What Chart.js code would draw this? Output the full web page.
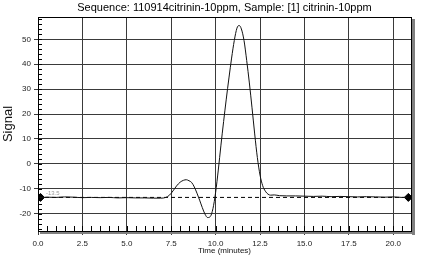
<!DOCTYPE html>
<html lang="en">
<head>
    <meta charset="UTF-8">
    <title>Sequence: 110914citrinin-10ppm</title>
    <script src="https://cdn.jsdelivr.net/npm/chart.js"></script>
    <style>
        body {
            margin: 0;
            background-color: #fff;
        }
        #wrap {
            width: 428px;
            height: 260px;
        }
    </style>
</head>
<body>
    <div id="wrap"><canvas id="signalChart" width="428" height="260"></canvas></div>
    <script>
        // retention time (minutes) and detector signal
        const timeMin = [0.0, 0.2, 0.5, 1.0, 1.5, 2.0, 2.5, 3.0, 3.5, 4.0, 4.5, 5.0, 5.5, 6.0, 6.5, 6.9,
            7.2, 7.4, 7.6, 7.8, 8.0, 8.2, 8.35, 8.5, 8.65, 8.8, 8.95, 9.1, 9.25, 9.4, 9.55, 9.7, 9.85,
            10.0, 10.15, 10.3, 10.45, 10.6, 10.75, 10.9, 11.05, 11.2, 11.32, 11.45, 11.6, 11.75, 11.9,
            12.05, 12.2, 12.35, 12.5, 12.65, 12.8, 12.95, 13.1, 13.3, 13.6, 14.0, 14.5, 15.0, 15.5,
            16.0, 16.5, 17.0, 17.5, 18.0, 18.5, 19.0, 19.5, 20.0, 20.5, 20.8];
        const signal = [-13.2, -13.6, -13.4, -13.5, -13.3, -13.4, -13.6, -13.5, -13.6, -13.5, -13.7, -13.6, -13.7, -13.7, -13.8, -13.8,
            -13.5, -12.6, -10.9, -8.9, -7.4, -6.6, -6.4, -6.8, -7.5, -9.3, -11.8, -14.6, -17.6, -20.2, -21.6, -21.2, -18.0,
            -11.5, -2.5, 7.5, 17.0, 26.0, 34.5, 42.5, 49.5, 54.5, 55.6, 54.2, 49.5, 41.5, 32.5,
            22.5, 12.0, 2.5, -4.5, -8.8, -11.0, -12.2, -12.6, -12.5, -12.8, -12.9, -12.9, -13.0, -13.1,
            -13.0, -13.2, -13.1, -13.2, -13.3, -13.2, -13.3, -13.4, -13.3, -13.5, -13.5];

        // baseline (dashed) and its end markers
        const baselineLevel = -13.5;
        const baselineX = [0, 21];
        const markerX = [0.14, 20.85];

        // axes
        const xTickValues = [0, 2.5, 5, 7.5, 10, 12.5, 15, 17.5, 20];
        const yTickValues = [-20, -10, 0, 10, 20, 30, 40, 50];
        const xRange = [0, 21];
        const yRange = [-27, 59];
        const xMinorStep = 0.5;
        const yMinorStep = 2;

        const titleText = 'Sequence: 110914citrinin-10ppm, Sample: [1] citrinin-10ppm';

        const traceData = timeMin.map((t, i) => ({ x: t, y: signal[i] }));
        const baselineData = baselineX.map(x => ({ x: x, y: baselineLevel }));
        const markerData = markerX.map(x => ({ x: x, y: baselineLevel }));

        // frame with grey drop shadow, minor ticks, baseline label
        const framePlugin = {
            id: 'frame',
            afterDatasetsDraw(chart) {
                const { ctx, chartArea: a, scales } = chart;
                ctx.save();
                ctx.fillStyle = '#808080';
                ctx.fillRect(a.right + 1, a.top + 2, 3, a.bottom - a.top + 2);
                ctx.fillRect(a.left + 2, a.bottom + 1, a.right - a.left + 2, 2);

                ctx.strokeStyle = '#000';
                ctx.lineWidth = 1;
                ctx.strokeRect(Math.round(a.left) + 0.5, Math.round(a.top) + 0.5,
                    Math.round(a.right - a.left), Math.round(a.bottom - a.top));

                ctx.beginPath();
                for (let v = Math.ceil(yRange[0] / yMinorStep) * yMinorStep; v <= yRange[1]; v += yMinorStep) {
                    const py = Math.round(scales.y.getPixelForValue(v)) + 0.5;
                    ctx.moveTo(a.left, py);
                    ctx.lineTo(a.left + 4, py);
                }
                for (let v = xRange[0]; v <= xRange[1]; v += xMinorStep) {
                    const px = Math.round(scales.x.getPixelForValue(v)) + 0.5;
                    ctx.moveTo(px, a.bottom);
                    ctx.lineTo(px, a.bottom - 5);
                }
                ctx.stroke();

                ctx.fillStyle = '#9a9a9a';
                ctx.font = '6px "Liberation Sans", Arial, sans-serif';
                ctx.textBaseline = 'middle';
                ctx.fillText(baselineLevel.toFixed(1), scales.x.getPixelForValue(0.45), scales.y.getPixelForValue(baselineLevel) - 4);
                ctx.restore();
            }
        };

        const ctx = document.getElementById('signalChart').getContext('2d');
        new Chart(ctx, {
            type: 'scatter',
            data: {
                datasets: [
                    {
                        label: 'Signal',
                        data: traceData,
                        showLine: true,
                        borderColor: '#111',
                        borderWidth: 1,
                        pointRadius: 0,
                        cubicInterpolationMode: 'monotone'
                    },
                    {
                        label: 'Baseline',
                        data: baselineData,
                        showLine: true,
                        borderColor: '#000',
                        borderWidth: 1,
                        borderDash: [4, 3],
                        pointRadius: 0
                    },
                    {
                        label: 'Markers',
                        data: markerData,
                        showLine: false,
                        pointStyle: 'rectRot',
                        pointRadius: 4,
                        backgroundColor: '#000',
                        borderColor: '#000'
                    }
                ]
            },
            options: {
                responsive: false,
                animation: false,
                layout: {
                    padding: { left: 0, right: 17, top: 0, bottom: 0 }
                },
                plugins: {
                    legend: { display: false },
                    tooltip: { enabled: false },
                    title: {
                        display: true,
                        text: titleText,
                        fullSize: false,
                        color: '#000',
                        font: { family: '"Liberation Sans", Arial, sans-serif', size: 11, weight: 'normal' },
                        padding: { top: 1.5, bottom: 2.3 }
                    }
                },
                scales: {
                    x: {
                        type: 'linear',
                        min: xRange[0],
                        max: xRange[1],
                        afterBuildTicks: scale => { scale.ticks = xTickValues.map(v => ({ value: v })); },
                        afterFit: scale => { scale.height = 29; },
                        grid: { color: '#3a3a3a', tickColor: '#3a3a3a', tickLength: 4, drawTicks: true },
                        border: { display: true, color: '#000' },
                        ticks: {
                            color: '#222',
                            padding: 4,
                            maxRotation: 0,
                            font: { family: '"Liberation Sans", Arial, sans-serif', size: 8 },
                            callback: v => Number(v).toFixed(1)
                        },
                        title: {
                            display: true,
                            text: 'Time (minutes)',
                            color: '#111',
                            font: { family: '"Liberation Sans", Arial, sans-serif', size: 8 },
                            padding: { top: 0, bottom: 4 }
                        }
                    },
                    y: {
                        type: 'linear',
                        min: yRange[0],
                        max: yRange[1],
                        afterBuildTicks: scale => { scale.ticks = yTickValues.map(v => ({ value: v })); },
                        afterFit: scale => { scale.width = 38; },
                        grid: { color: '#3a3a3a', tickColor: '#3a3a3a', tickLength: 4, drawTicks: true },
                        border: { display: true, color: '#000' },
                        ticks: {
                            color: '#222',
                            padding: 3,
                            font: { family: '"Liberation Sans", Arial, sans-serif', size: 8 }
                        },
                        title: {
                            display: true,
                            text: 'Signal',
                            color: '#111',
                            font: { family: '"Liberation Sans", Arial, sans-serif', size: 13 },
                            padding: { top: 1, bottom: 0 }
                        }
                    }
                }
            },
            plugins: [framePlugin]
        });
    </script>
</body>
</html>
